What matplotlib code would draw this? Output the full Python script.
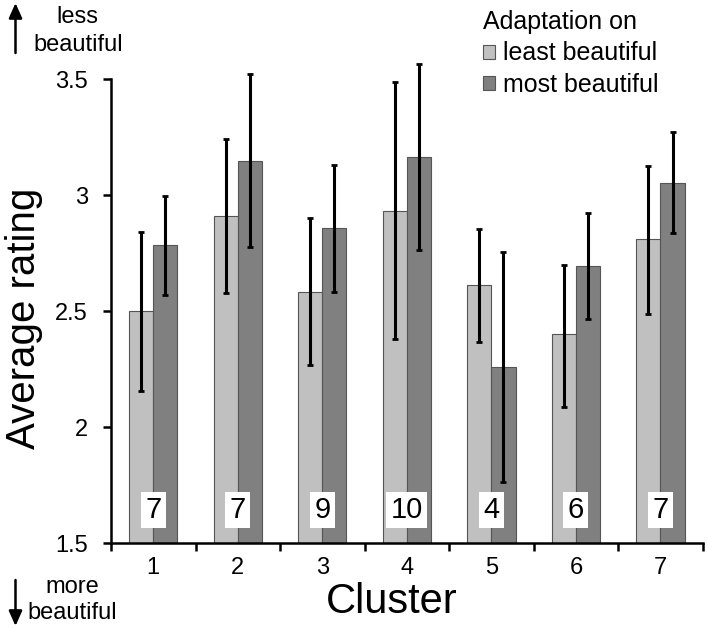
import numpy as np
import matplotlib
matplotlib.use('Agg')
import matplotlib.pyplot as plt
from matplotlib.patches import Patch, FancyArrowPatch

plt.rcParams['font.family'] = ['Liberation Sans', 'DejaVu Sans']

# values
clusters = ['1', '2', '3', '4', '5', '6', '7']
least_mean = [2.50, 2.91, 2.58, 2.93, 2.61, 2.40, 2.81]
least_lo = [2.155, 2.578, 2.266, 2.378, 2.368, 2.088, 2.489]
least_hi = [2.842, 3.243, 2.900, 3.487, 2.853, 2.698, 3.124]
most_mean = [2.783, 3.148, 2.856, 3.162, 2.257, 2.693, 3.053]
most_lo = [2.568, 2.775, 2.583, 2.764, 1.762, 2.466, 2.836]
most_hi = [2.997, 3.520, 3.131, 3.563, 2.753, 2.924, 3.272]
n_subjects = [7, 7, 9, 10, 4, 6, 7]
yticks = [1.5, 2, 2.5, 3, 3.5]
ytick_labels = ['1.5', '2', '2.5', '3', '3.5']

light = '#c0c0c0'
dark = '#808080'
edge = '#555555'

fig = plt.figure(figsize=(7.08, 6.28), dpi=100)
ax = fig.add_axes([111 / 708, 1 - 543 / 628, 591.7 / 708, 464 / 628])

x = np.arange(len(clusters))
w = 0.286

def err(mean, lo, hi):
    mean = np.array(mean)
    return np.vstack([mean - np.array(lo), np.array(hi) - mean])

ax.bar(x - w / 2, least_mean, w, bottom=0, color=light, edgecolor=edge, linewidth=0.8, zorder=2)
ax.bar(x + w / 2, most_mean, w, bottom=0, color=dark, edgecolor=edge, linewidth=0.8, zorder=2)
for xs, m, lo, hi in [(x - w / 2, least_mean, least_lo, least_hi), (x + w / 2, most_mean, most_lo, most_hi)]:
    eb = ax.errorbar(xs, m, yerr=err(m, lo, hi), fmt='none', ecolor='black',
                     elinewidth=2.2, capsize=2, capthick=2, zorder=3)
    for art in eb.lines[1] + eb.lines[2]:
        art.set_clip_on(False)

# sample size boxes
for xi, n in zip(x, n_subjects):
    ax.text(xi, 1.642, str(n), ha='center', va='center', fontsize=21, zorder=4,
            bbox=dict(boxstyle='square,pad=0.15', facecolor='white', edgecolor='none'))

ax.set_xlim(-0.5, len(clusters) - 0.5)
ax.set_ylim(1.5, 3.5)
ax.set_yticks(yticks)
ax.set_yticklabels(ytick_labels)
ax.set_xticks(np.arange(len(clusters) + 1) - 0.5)
ax.set_xticklabels([])
ax.set_xticks(x, minor=True)
ax.set_xticklabels(clusters, minor=True)
ax.tick_params(axis='x', which='major', direction='out', length=6, width=1.8)
ax.tick_params(axis='x', which='minor', length=0, pad=10, labelsize=17)
ax.tick_params(axis='y', direction='out', length=6, width=1.8, pad=10.5, labelsize=17)

for side in ['top', 'right']:
    ax.spines[side].set_visible(False)
for side in ['left', 'bottom']:
    ax.spines[side].set_linewidth(1.8)

ax.set_xlabel('Cluster', fontsize=30)
ax.xaxis.set_label_coords(0.475, -0.085)
ax.set_ylabel('Average rating', fontsize=29)
ax.yaxis.set_label_coords(-0.115, 0.485)

handles = [Patch(facecolor=light, edgecolor=edge, linewidth=0.8, label='least beautiful'),
           Patch(facecolor=dark, edgecolor=edge, linewidth=0.8, label='most beautiful')]
leg = ax.legend(handles=handles, title='Adaptation on', loc='upper left',
                bbox_to_anchor=(483 / 708, 1 - 10 / 628), bbox_transform=fig.transFigure,
                frameon=False, fontsize=18, title_fontsize=18, alignment='left',
                handlelength=0.5, handleheight=0.5, handletextpad=0.3,
                labelspacing=0.3, borderpad=0, borderaxespad=0)

# direction hints
fig.text(77 / 708, 1 - 17 / 628, 'less', ha='center', va='center', fontsize=17)
fig.text(78 / 708, 1 - 45 / 628, 'beautiful', ha='center', va='center', fontsize=17)
fig.text(72 / 708, 1 - 587 / 628, 'more', ha='center', va='center', fontsize=17)
fig.text(72 / 708, 1 - 613 / 628, 'beautiful', ha='center', va='center', fontsize=17)
arrow_style = '-|>,head_length=9,head_width=4'
fig.add_artist(FancyArrowPatch((15.5 / 708, 1 - 53 / 628), (15.5 / 708, 1 - 3 / 628),
               transform=fig.transFigure, arrowstyle=arrow_style, color='black', lw=1.8,
               shrinkA=0, shrinkB=0))
fig.add_artist(FancyArrowPatch((15.5 / 708, 1 - 580 / 628), (15.5 / 708, 1 - 626 / 628),
               transform=fig.transFigure, arrowstyle=arrow_style, color='black', lw=1.8,
               shrinkA=0, shrinkB=0))

fig.savefig('out.png', dpi=100)
